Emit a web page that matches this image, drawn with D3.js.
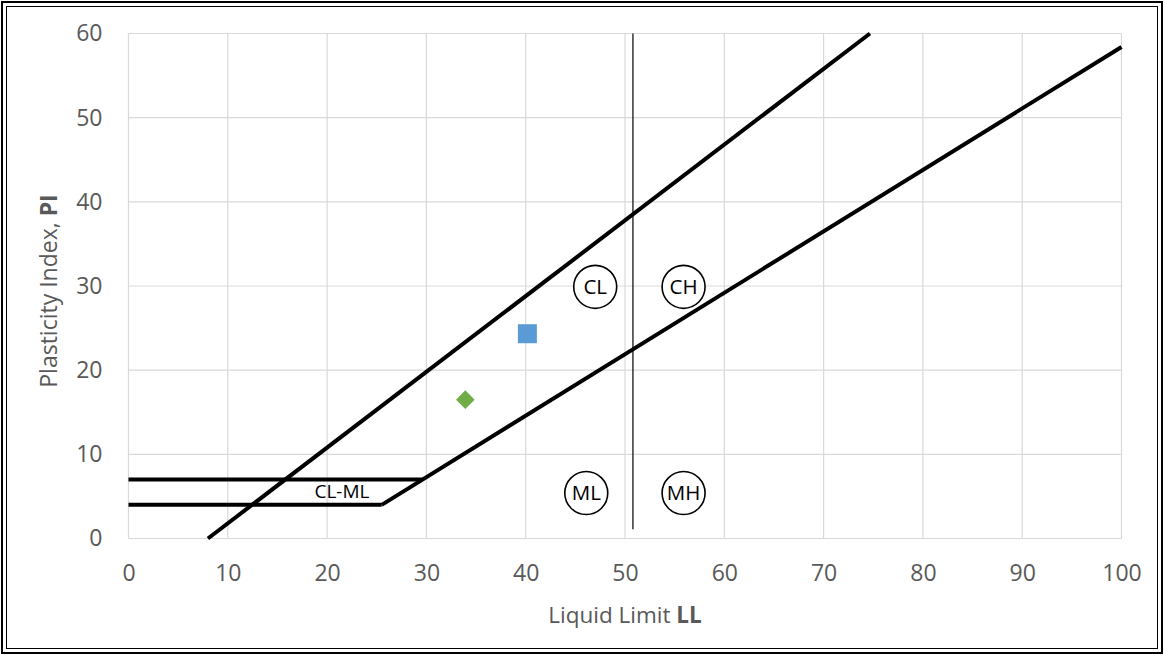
<!DOCTYPE html>
<html>
<head>
<meta charset="utf-8">
<script src="https://cdn.jsdelivr.net/npm/d3@7"></script>
<style>
  html, body { margin: 0; padding: 0; background: #fff; }
  svg { display: block; }
</style>
</head>
<body>
<svg id="chart" width="1164" height="655"></svg>
<script>
// Plasticity chart (USCS): boundary lines, zone labels and sample points
const xTicks = [0, 10, 20, 30, 40, 50, 60, 70, 80, 90, 100];
const yTicks = [0, 10, 20, 30, 40, 50, 60];

// Boundary lines as [LL, PI] pairs
const uLine = [[8, 0], [74.67, 60]];
const aLine = [[25.5, 4], [100, 58.4]];
const pi7Line = [[0, 7], [29.6, 7]];
const pi4Line = [[0, 4], [25.5, 4]];
const llDivider = [[50.8, 1.1], [50.8, 60]];

// Zone labels drawn inside circles
const zoneNames = ["CL", "CH", "ML", "MH"];
const zoneLL = [47.0, 55.9, 46.1, 55.9];
const zonePI = [29.9, 29.9, 5.4, 5.4];

// Dual-symbol zone label
const clmlLabel = ["CL-ML"];
const clmlPos = [21.5, 5.6];

// Samples
const squareSample = [40.17, 24.33];
const diamondSample = [33.92, 16.5];

const svg = d3.select("#chart");
const W = 1164, H = 655;
const plotLeft = 128.5, plotRight = 1121.5, plotTop = 33.5, plotBottom = 538.5;

// Double outer frame
svg.append("rect").attr("x", 2).attr("y", 2).attr("width", W - 4).attr("height", H - 4)
  .attr("fill", "none").attr("stroke", "#000").attr("stroke-width", 2);
svg.append("rect").attr("x", 6.5).attr("y", 6.5).attr("width", W - 13).attr("height", H - 13)
  .attr("fill", "none").attr("stroke", "#000").attr("stroke-width", 1);

const x = d3.scaleLinear().domain([0, 100]).range([plotLeft, plotRight]);
const y = d3.scaleLinear().domain([0, 60]).range([plotBottom, plotTop]);

const font = "'Open Sans', 'Liberation Sans', sans-serif";

// Gridlines
const grid = svg.append("g");
grid.selectAll("line.v").data(xTicks).join("line").attr("class", "v")
  .attr("x1", d => x(d)).attr("x2", d => x(d)).attr("y1", plotTop).attr("y2", plotBottom)
  .attr("stroke", "#d9d9d9").attr("stroke-width", 1.2);
grid.selectAll("line.h").data(yTicks).join("line").attr("class", "h")
  .attr("x1", plotLeft).attr("x2", plotRight).attr("y1", d => y(d)).attr("y2", d => y(d))
  .attr("stroke", "#d9d9d9").attr("stroke-width", 1.2);

// Axes (labels only)
const xAxis = svg.append("g").attr("transform", `translate(0,${plotBottom})`)
  .call(d3.axisBottom(x).tickValues(xTicks).tickSize(0).tickPadding(26.5));
const yAxis = svg.append("g").attr("transform", `translate(${plotLeft},0)`)
  .call(d3.axisLeft(y).tickValues(yTicks).tickSize(0).tickPadding(26));
[xAxis, yAxis].forEach(a => {
  a.select(".domain").remove();
  a.selectAll("text").attr("font-family", font).attr("font-size", 23).attr("fill", "#595959");
});

// Axis titles
const xt = svg.append("text").attr("x", 625).attr("y", 623)
  .attr("text-anchor", "middle").attr("font-family", font).attr("font-size", 22.5).attr("fill", "#595959");
xt.append("tspan").text("Liquid Limit ");
xt.append("tspan").attr("font-weight", "bold").text("LL");

const yt = svg.append("text").attr("transform", "translate(57,291) rotate(-90)")
  .attr("text-anchor", "middle").attr("font-family", font).attr("font-size", 23).attr("fill", "#595959");
yt.append("tspan").text("Plasticity Index, ");
yt.append("tspan").attr("font-weight", "bold").text("PI");

// Boundary lines
const line = d3.line().x(d => x(d[0])).y(d => y(d[1]));
[uLine, aLine, pi7Line, pi4Line].forEach(seg => {
  svg.append("path").attr("d", line(seg)).attr("fill", "none")
    .attr("stroke", "#000").attr("stroke-width", 4);
});
svg.append("path").attr("d", line(llDivider)).attr("fill", "none")
  .attr("stroke", "#000").attr("stroke-width", 1.2);

// CL-ML label
svg.append("text").datum(clmlLabel[0])
  .attr("x", x(clmlPos[0])).attr("y", y(clmlPos[1])).attr("dy", "0.36em")
  .attr("text-anchor", "middle").attr("font-family", font).attr("font-size", 19).attr("fill", "#000")
  .text(d => d);

// Zone circles
const zones = svg.append("g").selectAll("g").data(zoneNames).join("g")
  .attr("transform", (d, i) => `translate(${x(zoneLL[i])},${y(zonePI[i])})`);
zones.append("circle").attr("r", 21.5).attr("fill", "#fff").attr("stroke", "#000").attr("stroke-width", 1.6);
zones.append("text").attr("text-anchor", "middle").attr("dy", "0.36em")
  .attr("font-family", font).attr("font-size", 20.5).attr("fill", "#000").text(d => d);

// Sample markers
const sq = 19;
svg.append("rect").attr("x", x(squareSample[0]) - sq / 2).attr("y", y(squareSample[1]) - sq / 2)
  .attr("width", sq).attr("height", sq).attr("fill", "#5b9bd5");
const dh = 9.3;
svg.append("path")
  .attr("d", `M0,${-dh}L${dh},0L0,${dh}L${-dh},0Z`)
  .attr("transform", `translate(${x(diamondSample[0])},${y(diamondSample[1])})`)
  .attr("fill", "#70ad47");
</script>
</body>
</html>
